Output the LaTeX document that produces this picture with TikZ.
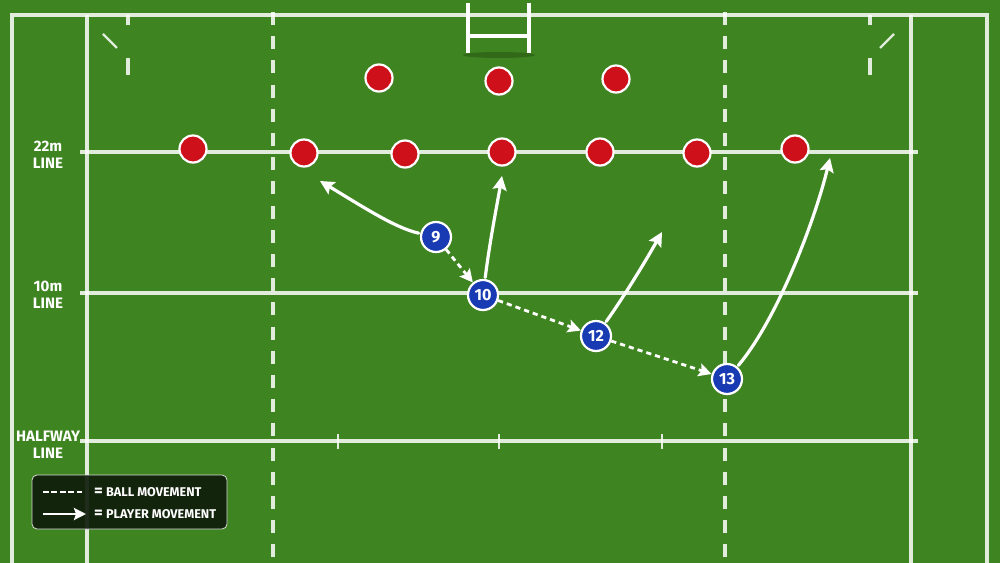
\documentclass[tikz,border=0pt]{standalone}
\usepackage{fontspec}
\setmainfont{Fira Sans}
\usetikzlibrary{arrows.meta,shadows}

\definecolor{grass}{RGB}{62,132,32}
\definecolor{grassdark}{RGB}{42,100,20}
\definecolor{oppred}{RGB}{206,16,26}
\definecolor{ourblue}{RGB}{24,58,178}
\definecolor{legendbg}{RGB}{16,28,12}
\pgfdeclareradialshading{vignette}{\pgfpoint{0bp}{0bp}}{color(0bp)=(grass); color(40bp)=(grass); color(71bp)=(grassdark)}

\begin{document}
\begin{tikzpicture}[x=0.5mm,y=-0.5mm,
  pitchline/.style={white,opacity=0.85,line width=1.6mm},
  halfdash/.style={pitchline,dash pattern=on 6.5mm off 5.6mm},
  defender/.style={circle,fill=oppred,draw=white,line width=1.1mm,minimum size=13.5mm,inner sep=0pt,
    drop shadow={opacity=0.35,shadow xshift=0.4mm,shadow yshift=-0.8mm}},
  attacker/.style={defender,fill=ourblue,minimum size=15mm,text=white,font=\fontsize{23}{23}\selectfont\bfseries},
  ball/.style={white,line width=1.4mm,dash pattern=on 2.6mm off 2mm,-{Stealth[length=6.5mm,width=6.5mm,inset=1.2mm]}},
  run/.style={white,line width=1.6mm,line cap=round,-{Stealth[length=7mm,width=7mm,inset=1.2mm]},shorten <=0.8mm},
  linetext/.style={white,align=center,font=\fontsize{21.5}{24.5}\selectfont\bfseries},
  keytext/.style={white,inner sep=0pt,font=\fontsize{18}{18}\selectfont\bfseries}]
\useasboundingbox (0,0) rectangle (1000,563);
\shade[shading=vignette] (0,0) rectangle (1000,563);

% pitch markings
\draw[pitchline] (12,563) -- (12,15) -- (987,15) -- (987,563);
\draw[pitchline] (87,15) -- (87,563) (911,15) -- (911,563);
\draw[pitchline] (80,152) -- (918,152)
                 (80,293) -- (918,293)
                 (80,441) -- (918,441);
\draw[halfdash] (273,12) -- (273,563) (725,12) -- (725,563);
\draw[pitchline] (128,15) -- (128,25) (128,58) -- (128,75)
                 (870,15) -- (870,25) (870,58) -- (870,75);
\draw[pitchline,line width=1.2mm] (103,34) -- (117,48) (880,48) -- (894,34);
\draw[pitchline,line width=1.2mm] (338,434) -- (338,449)
                 (499,434) -- (499,449)
                 (662,434) -- (662,449);

% posts
\fill[black,opacity=0.2] (499,55) ellipse (36 and 3);
\draw[white,line width=1.6mm] (468,3) -- (468,53) (529,3) -- (529,53) (468,36) -- (529,36);

% defence
\node[defender] (d1) at (379,78) {};
\node[defender] (d2) at (499,81) {};
\node[defender] (d3) at (616,79) {};
\node[defender] (d4) at (193,149) {};
\node[defender] (d5) at (304,153) {};
\node[defender] (d6) at (405,154) {};
\node[defender] (d7) at (502,152) {};
\node[defender] (d8) at (600,152) {};
\node[defender] (d9) at (697,153) {};
\node[defender] (d10) at (795,149) {};

% attack
\node[attacker] (p9) at (436,237) {9};
\node[attacker] (p10) at (483,295) {10};
\node[attacker] (p12) at (596,336) {12};
\node[attacker] (p13) at (727,379) {13};

\coordinate (r9) at (320,181);
\coordinate (r10) at (502,176);
\coordinate (r12) at (662,232);
\coordinate (r13) at (830,158);

\draw[ball] (p9) -- (p10);
\draw[ball] (p10) -- (p12);
\draw[ball] (p12) -- (p13);

\draw[run] (p9) .. controls (395,228) and (360,205) .. (r9);
\draw[run] (p10) .. controls (490,240) and (497,205) .. (r10);
\draw[run] (p12) .. controls (625,295) and (645,262) .. (r12);
\draw[run] (p13) .. controls (778,318) and (815,220) .. (r13);

% line names
\node[linetext] (l22) at (48,155) {22m\\LINE};
\node[linetext] (l10) at (48,295) {10m\\LINE};
\node[linetext] (lhalf) at (48,445) {HALFWAY\\LINE};

% key
\draw[fill=legendbg,fill opacity=0.92,draw=white!85!black,line width=0.4mm,rounded corners=2.5mm] (32,475) rectangle (227,529);
\coordinate (kb1) at (43,492);
\coordinate (kb2) at (82,492);
\coordinate (kr1) at (43,514);
\coordinate (kr2) at (86,514);
\draw[white,line width=1.2mm,dash pattern=on 2.9mm off 1.3mm] (kb1) -- (kb2);
\draw[white,line width=1.4mm,-{Stealth[length=6mm,width=6mm,inset=1mm]}] (kr1) -- (kr2);
\node[keytext,font=\fontsize{24}{24}\selectfont\bfseries] (eqb) at (98.5,492) {=};
\node[keytext,font=\fontsize{24}{24}\selectfont\bfseries] (eqr) at (98.5,514) {=};
\node[keytext,anchor=west] (kball) at (106,492) {BALL MOVEMENT};
\node[keytext,anchor=west] (krun) at (106,514) {PLAYER MOVEMENT};
\end{tikzpicture}
\end{document}
